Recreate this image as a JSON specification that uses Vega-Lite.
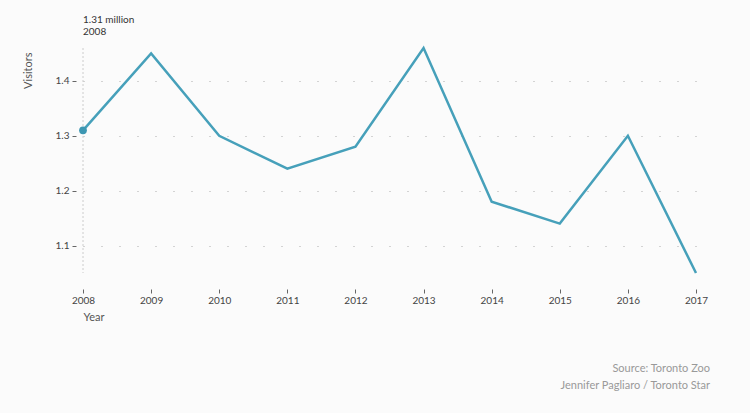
{
  "$schema": "https://vega.github.io/schema/vega-lite/v6.json",
  "autosize": {"type": "none"},
  "width": 613,
  "height": 225,
  "padding": {"left": 83, "top": 48, "right": 54, "bottom": 140},
  "background": "#fbfbfb",
  "title": {
    "text": "1.31 million",
    "subtitle": "2008",
    "anchor": "start",
    "frame": "group",
    "font": "Lato",
    "fontSize": 10,
    "fontWeight": "normal",
    "color": "#333333",
    "subtitleFont": "Lato",
    "subtitleFontSize": 10,
    "subtitleColor": "#333333",
    "subtitlePadding": 2,
    "offset": 6
  },
  "config": {
    "view": {"stroke": null},
    "axis": {
      "labelFont": "Lato",
      "labelFontSize": 10,
      "labelColor": "#444444",
      "titleFont": "Lato",
      "titleFontSize": 11,
      "titleFontWeight": "normal",
      "titleColor": "#555555",
      "tickColor": "#666666",
      "tickSize": 4,
      "domain": false
    }
  },
  "data": {
    "values": [
      {"year": "2008", "visitors": 1.31},
      {"year": "2009", "visitors": 1.45},
      {"year": "2010", "visitors": 1.30},
      {"year": "2011", "visitors": 1.24},
      {"year": "2012", "visitors": 1.28},
      {"year": "2013", "visitors": 1.46},
      {"year": "2014", "visitors": 1.18},
      {"year": "2015", "visitors": 1.14},
      {"year": "2016", "visitors": 1.30},
      {"year": "2017", "visitors": 1.05}
    ]
  },
  "encoding": {
    "x": {
      "field": "year",
      "type": "ordinal",
      "scale": {"type": "point", "padding": 0},
      "axis": {
        "title": "Year",
        "labelAngle": 0,
        "offset": 16,
        "labelPadding": 2,
        "grid": false,
        "titleAnchor": "start",
        "titleAlign": "left",
        "titlePadding": 6
      }
    },
    "y": {
      "field": "visitors",
      "type": "quantitative",
      "scale": {"domain": [1.05, 1.46], "nice": false, "zero": false},
      "axis": {
        "title": "Visitors",
        "values": [1.1, 1.2, 1.3, 1.4],
        "format": ".1f",
        "offset": 7,
        "labelPadding": 3,
        "titleAnchor": "end",
        "titlePadding": 22,
        "titleY": 4,
        "grid": true,
        "gridColor": "#aaaaaa",
        "gridDash": [1, 17],
        "gridWidth": 1
      }
    }
  },
  "layer": [
    {
      "transform": [{"filter": "datum.year == '2008'"}],
      "mark": {"type": "rule", "color": "#cccccc", "strokeDash": [2, 2], "strokeWidth": 1},
      "encoding": {"y": null}
    },
    {
      "mark": {"type": "line", "color": "#46a0ba", "strokeWidth": 2.5}
    },
    {
      "transform": [{"filter": "datum.year == '2008'"}],
      "mark": {"type": "circle", "color": "#3d97b2", "opacity": 1, "size": 60}
    },
    {
      "data": {"values": [{"note": "credit"}]},
      "mark": {
        "type": "text",
        "font": "Lato",
        "fontSize": 11,
        "color": "#999999",
        "align": "right",
        "baseline": "top",
        "lineHeight": 17,
        "dx": 14,
        "dy": 90
      },
      "encoding": {
        "x": {"value": "width"},
        "y": {"value": "height"},
        "text": {"value": ["Source: Toronto Zoo", "Jennifer Pagliaro / Toronto Star"]}
      }
    }
  ]
}
